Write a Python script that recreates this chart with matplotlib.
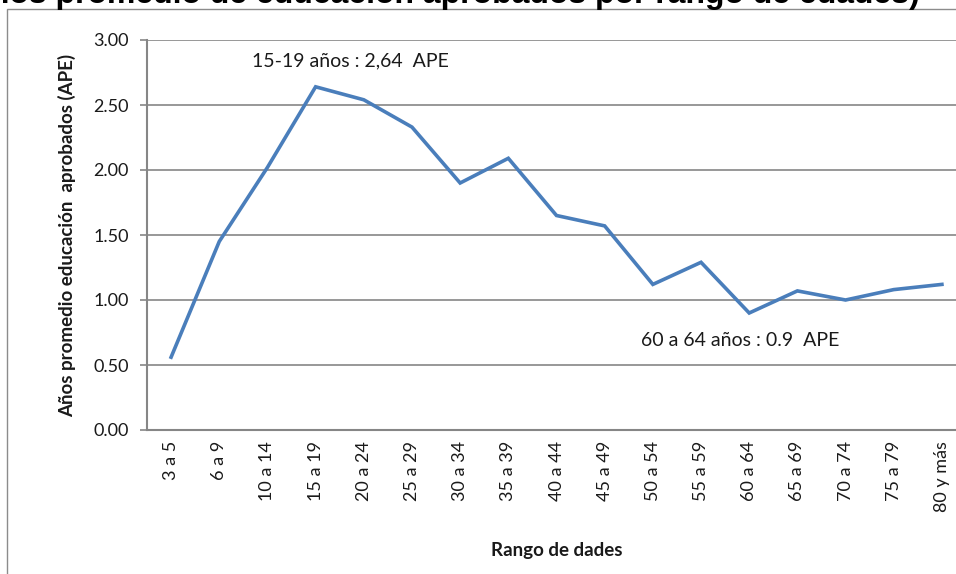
import matplotlib
matplotlib.use("Agg")
import matplotlib.pyplot as plt
from matplotlib.patches import Rectangle

categories = ["3 a 5", "6 a 9", "10 a 14", "15 a 19", "20 a 24", "25 a 29", "30 a 34",
              "35 a 39", "40 a 44", "45 a 49", "50 a 54", "55 a 59", "60 a 64", "65 a 69",
              "70 a 74", "75 a 79", "80 y más"]
ape_values = [0.56, 1.45, 2.02, 2.64, 2.54, 2.33, 1.90, 2.09, 1.65, 1.57, 1.12, 1.29,
              0.90, 1.07, 1.00, 1.08, 1.12]
y_ticks = [0.0, 0.5, 1.0, 1.5, 2.0, 2.5, 3.0]
y_ticklabels = ["0.00", "0.50", "1.00", "1.50", "2.00", "2.50", "3.00"]
annotation_peak = "15-19 años : 2,64  APE"
annotation_min = "60 a 64 años : 0.9  APE"
title_text = "(Años promedio de educación aprobados por rango de edades)"
x_label = "Rango de dades"
y_label = "Años promedio educación  aprobados (APE)"

plt.rcParams['font.family'] = ['Lato', 'DejaVu Sans']

W, H = 956, 574
fig = plt.figure(figsize=(W / 100, H / 100), dpi=100)
fig.patch.set_facecolor("white")

# outer chart-area border (extends off the right/bottom edge)
fig.patches.append(Rectangle((7 / W, -0.2), 1.5, 1 - 9.5 / H + 0.2, transform=fig.transFigure,
                             fill=False, edgecolor="#8c8c8c", linewidth=1.0))

left, right, top, bottom = 147, 966, 40, 430
ax = fig.add_axes([left / W, 1 - bottom / H, (right - left) / W, (bottom - top) / H])

x = list(range(len(categories)))
ax.plot(x, ape_values, color="#4a7ebb", linewidth=2.6, solid_joinstyle="miter", zorder=3)

ax.set_xlim(-0.5, len(categories) - 0.5)
ax.set_ylim(0, 3.0)
ax.set_yticks(y_ticks)
ax.set_yticklabels(y_ticklabels, fontsize=13, color="#1a1a1a")
ax.set_xticks(x)
ax.set_xticklabels(categories, rotation=90, fontsize=13, color="#1a1a1a")
ax.tick_params(axis="x", length=0, pad=8)
ax.tick_params(axis="y", length=5, width=1.2, color="#868686", pad=8)

ax.grid(axis="y", color="#868686", linewidth=1.2)
ax.set_axisbelow(True)
for s in ["top", "right"]:
    ax.spines[s].set_visible(False)
for s in ["left", "bottom"]:
    ax.spines[s].set_color("#868686")
    ax.spines[s].set_linewidth(1.5)

ax.set_ylabel(y_label, fontsize=13.5, fontweight="bold", color="#1a1a1a")
ax.yaxis.set_label_coords(-(147 - 76) / (right - left), 0.5)
ax.set_xlabel(x_label, fontsize=13.5, fontweight="bold", color="#1a1a1a")
ax.xaxis.set_label_coords((557 - left) / (right - left), -(542 - bottom) / (bottom - top))

ax.text(3.73, 2.84, annotation_peak, fontsize=14, color="#1a1a1a", ha="center", va="center")
ax.text(11.82, 0.69, annotation_min, fontsize=14, color="#1a1a1a", ha="center", va="center")

# clipped chart title above the chart area
fig.text(920 / W, 1 - 2.5 / H, title_text, fontsize=23, fontweight="bold",
         family=["Liberation Sans", "DejaVu Sans"], ha="right", va="baseline", color="black")

fig.savefig("out.png", dpi=100)
